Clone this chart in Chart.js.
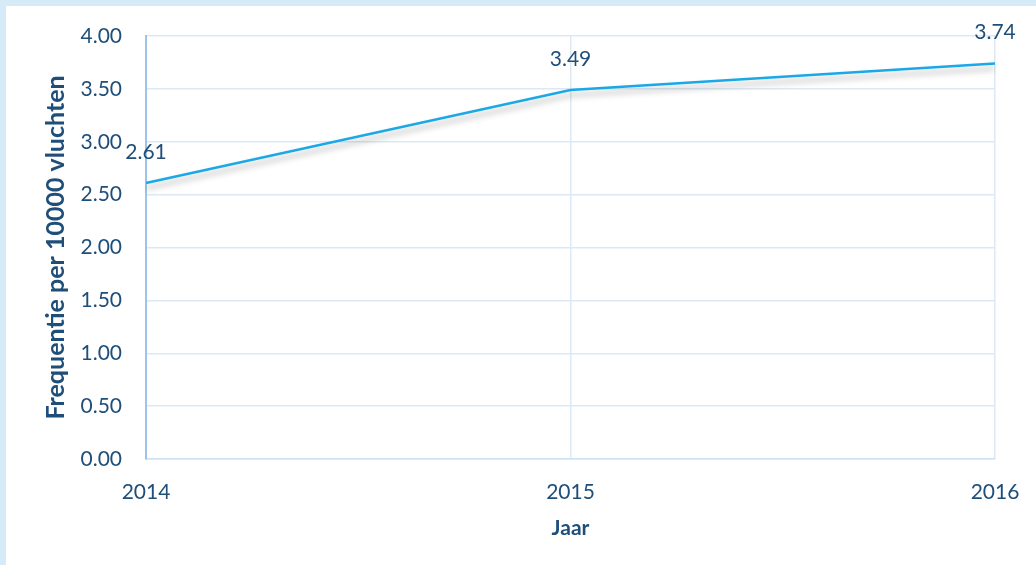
<!DOCTYPE html>
<html>
<head>
<meta charset="utf-8">
<script src="https://cdn.jsdelivr.net/npm/chart.js@4.4.0/dist/chart.umd.min.js"></script>
<style>
  html, body { margin: 0; padding: 0; }
  body { background: #d6eaf8; width: 1036px; height: 565px; overflow: hidden; }
  #wrap { position: absolute; left: 6px; top: 6px; width: 1030px; height: 559px; background: #ffffff; }
</style>
</head>
<body>
<div id="wrap"><canvas id="freqChart"></canvas></div>
<script>
// Incident frequency per 10000 flights, per year
const years = ["2014", "2015", "2016"];
const frequency = [2.61, 3.49, 3.74];
const yTicks = [0, 0.5, 1, 1.5, 2, 2.5, 3, 3.5, 4];

const textColor = "#1f4e79";
const font = "Lato, 'Open Sans', sans-serif";

// soft grey shadow under the line
const lineShadow = {
    id: "lineShadow",
    beforeDatasetDraw(chart) {
        const ctx = chart.ctx;
        ctx.save();
        ctx.shadowColor = "rgba(0,0,0,0.30)";
        ctx.shadowBlur = 6;
        ctx.shadowOffsetY = 5;
    },
    afterDatasetDraw(chart) {
        chart.ctx.restore();
    }
};

// value labels above each point
const valueLabels = {
    id: "valueLabels",
    afterDatasetsDraw(chart) {
        const ctx = chart.ctx;
        const meta = chart.getDatasetMeta(0);
        ctx.save();
        ctx.font = "21px " + font;
        ctx.fillStyle = textColor;
        ctx.textAlign = "center";
        ctx.textBaseline = "middle";
        meta.data.forEach((pt, i) => {
            ctx.fillText(frequency[i].toFixed(2), pt.x, pt.y - 31);
        });
        ctx.restore();
    }
};

new Chart(document.getElementById("freqChart"), {
    type: "line",
    data: {
        labels: years,
        datasets: [{
            label: "Frequentie",
            data: frequency,
            borderColor: "#1aa8e6",
            borderWidth: 2.5,
            pointRadius: 0,
            tension: 0,
            fill: false
        }]
    },
    options: {
        responsive: true,
        maintainAspectRatio: false,
        animation: false,
        layout: { padding: { top: 30, right: 41, left: 0, bottom: 0 } },
        plugins: {
            legend: { display: false },
            tooltip: { enabled: false }
        },
        scales: {
            x: {
                offset: false,
                afterFit(scale) {
                    scale.height = 106;
                    scale.paddingLeft = 0;
                    scale.paddingRight = 0;
                },
                grid: { color: "#dce9f5", lineWidth: 1.5, drawTicks: false },
                border: { color: "#cfe2f3", width: 1.5 },
                ticks: {
                    color: textColor,
                    font: { family: font, size: 21 },
                    padding: 21,
                    maxRotation: 0
                },
                title: {
                    display: true,
                    text: "Jaar",
                    color: textColor,
                    font: { family: font, size: 21, weight: "bold" },
                    padding: { top: 0, bottom: 24 }
                }
            },
            y: {
                min: 0,
                max: 4,
                afterFit(scale) {
                    scale.width = 140;
                    scale.paddingTop = 0;
                    scale.paddingBottom = 0;
                },
                afterBuildTicks(scale) { scale.ticks = yTicks.map(v => ({ value: v })); },
                grid: { color: "#dce9f5", lineWidth: 1.5, drawTicks: false },
                border: { color: "#9dc3e6", width: 2 },
                ticks: {
                    color: textColor,
                    font: { family: font, size: 21 },
                    padding: 24,
                    callback: v => v.toFixed(2)
                },
                title: {
                    display: true,
                    text: "Frequentie per 10000 vluchten",
                    color: textColor,
                    font: { family: font, size: 25, weight: "bold" },
                    padding: { top: 35, bottom: 0 }
                }
            }
        }
    },
    plugins: [lineShadow, valueLabels]
});
</script>
</body>
</html>
